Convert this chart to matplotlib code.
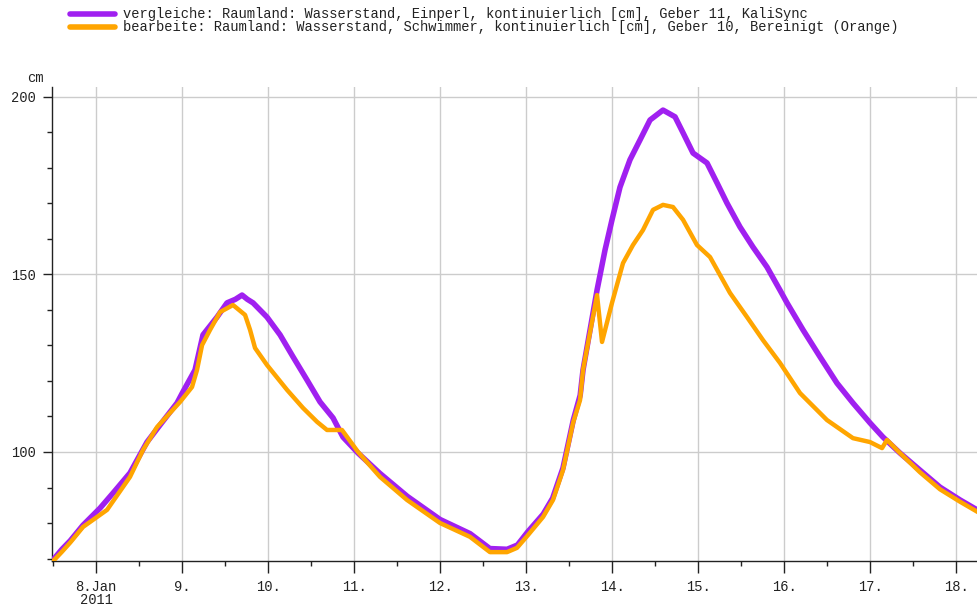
import numpy as np
import matplotlib
matplotlib.use("Agg")
import matplotlib.pyplot as plt
import matplotlib.dates as mdates
from matplotlib.lines import Line2D
from matplotlib.ticker import FixedLocator, MultipleLocator
import datetime as dt

# ---- data (day of January 2011, value in cm) ----
purple_day = [7.49, 7.60, 7.70, 7.849, 8.047, 8.20, 8.395, 8.593, 8.744, 8.942, 9.012, 9.151,
              9.244, 9.407, 9.523, 9.62, 9.698, 9.76, 9.826, 9.988, 10.140, 10.291, 10.453,
              10.605, 10.756, 10.872, 11.047, 11.30, 11.62, 12.0, 12.35, 12.58, 12.78, 12.90,
              13.02, 13.20, 13.31, 13.43, 13.55, 13.63, 13.663, 13.826, 13.919, 14.0, 14.093,
              14.209, 14.326, 14.442, 14.593, 14.733, 14.826, 14.942, 15.105, 15.221, 15.337,
              15.488, 15.640, 15.802, 15.953, 16.035, 16.221, 16.419, 16.616, 16.802, 17.0,
              17.151, 17.349, 17.581, 17.814, 18.047, 18.26]
purple_val = [69.3, 72.5, 75.0, 79.4, 84.2, 88.5, 94.1, 102.8, 107.6, 113.8, 117.0, 123.1,
              133.0, 138.0, 142.0, 143.0, 144.2, 143.0, 142.0, 138.0, 133.0, 126.8, 120.3,
              114.1, 109.6, 104.2, 99.7, 94.0, 87.5, 81.0, 77.0, 72.8, 72.6, 73.8,
              77.5, 82.5, 87.0, 95.5, 109.0, 116.0, 123.1, 145.6, 156.9, 165.4, 174.6,
              182.3, 187.9, 193.5, 196.3, 194.4, 189.9, 184.2, 181.4, 175.8, 170.1,
              163.4, 157.7, 152.1, 145.6, 142.0, 134.4, 126.8, 119.4, 113.8, 108.2,
              104.2, 99.7, 94.9, 90.1, 86.5, 83.5]

orange_day = [7.49, 7.60, 7.70, 7.849, 8.128, 8.395, 8.547, 8.709, 8.977, 9.116, 9.174, 9.233,
              9.326, 9.442, 9.593, 9.733, 9.791, 9.849, 9.988, 10.221, 10.407, 10.570, 10.686,
              10.860, 11.047, 11.302, 11.616, 12.0, 12.349, 12.581, 12.779, 12.895, 13.023,
              13.198, 13.314, 13.430, 13.547, 13.628, 13.663, 13.826, 13.884, 14.0, 14.128,
              14.244, 14.360, 14.477, 14.593, 14.709, 14.826, 14.988, 15.140, 15.372, 15.570,
              15.756, 15.953, 16.186, 16.5, 16.802, 17.0, 17.140, 17.198, 17.349, 17.581,
              17.814, 18.047, 18.26]
orange_val = [69.0, 71.8, 74.5, 78.9, 83.7, 93.0, 100.6, 107.0, 114.1, 118.3, 123.1, 130.1,
              134.4, 139.4, 141.4, 138.6, 134.4, 129.3, 124.5, 117.5, 112.4, 108.5, 106.2,
              106.2, 100.0, 93.0, 86.5, 80.0, 76.1, 71.8, 71.8, 73.0, 76.6,
              81.7, 86.5, 94.9, 108.2, 114.6, 123.1, 144.2, 131.0, 142.0, 153.2,
              158.3, 162.5, 168.2, 169.6, 169.0, 165.4, 158.3, 154.9, 144.8, 138.0,
              131.5, 125.1, 116.6, 109.0, 103.9, 102.8, 101.1, 103.4, 99.7, 94.3,
              89.5, 86.0, 83.0]

legend_labels = [
    "vergleiche: Raumland: Wasserstand, Einperl, kontinuierlich [cm], Geber 11, KaliSync",
    "bearbeite: Raumland: Wasserstand, Schwimmer, kontinuierlich [cm], Geber 10, Bereinigt (Orange)",
]
y_ticks = [100, 150, 200]
x_tick_days = list(range(8, 19))
x_tick_labels = ["8.Jan\n2011"] + [f"{d}." for d in range(9, 19)]

PURPLE = "#a020f0"
ORANGE = "#ffa500"
FONT = "Liberation Mono"
FS = 9.9

base = mdates.date2num(dt.datetime(2011, 1, 1))
def dnum(days):
    return base + np.asarray(days, dtype=float) - 1.0

fig = plt.figure(figsize=(9.78, 6.08), dpi=100)
W, H = 978, 608
ax = fig.add_axes([52 / W, 1 - 561 / H, 1 - 52 / W, (561 - 87) / H])

ax.plot(dnum(purple_day), purple_val, color=PURPLE, lw=4.0, solid_joinstyle="round", zorder=3)
ax.plot(dnum(orange_day), orange_val, color=ORANGE, lw=3.2, solid_joinstyle="round", zorder=4)

ax.set_xlim(dnum(7.488), dnum(18.256))
ax.set_ylim(69.3, 202.8)

ax.xaxis.set_major_locator(FixedLocator(dnum(x_tick_days)))
ax.xaxis.set_minor_locator(FixedLocator(dnum(np.array(x_tick_days[:-1]) + 0.5).tolist() + [dnum(7.5)]))
ax.set_xticklabels(x_tick_labels, fontfamily=FONT, fontsize=FS, color="#222222")
for lbl in ax.get_xticklabels():
    lbl.set_linespacing(0.95)
ax.yaxis.set_major_locator(FixedLocator(y_ticks))
ax.yaxis.set_minor_locator(MultipleLocator(10))
ax.set_yticklabels([str(v) for v in y_ticks], fontfamily=FONT, fontsize=FS, color="#222222")

ax.tick_params(axis="x", which="major", length=8.6, width=1.0, pad=5, color="#222222")
ax.tick_params(axis="x", which="minor", length=3.6, width=1.0, color="#222222")
ax.tick_params(axis="y", which="major", length=6.5, width=1.0, pad=5, color="#222222")
ax.tick_params(axis="y", which="minor", length=3.6, width=1.0, color="#222222")

ax.grid(True, which="major", color="#cccccc", lw=1.0, zorder=0)
for s in ["top", "right"]:
    ax.spines[s].set_visible(False)
for s in ["left", "bottom"]:
    ax.spines[s].set_color("#222222")
    ax.spines[s].set_linewidth(1.0)

fig.text(35 / W, 1 - 78 / H, "cm", fontfamily=FONT, fontsize=FS, ha="center", va="center",
         color="#222222")

# legend at top
for i, (lab, col) in enumerate(zip(legend_labels, [PURPLE, ORANGE])):
    yy = 1 - (14 + 12.7 * i) / H
    fig.add_artist(Line2D([70 / W, 115 / W], [yy, yy], color=col, lw=4.0,
                          solid_capstyle="round", transform=fig.transFigure))
    fig.text(123 / W, yy, lab, fontfamily=FONT, fontsize=FS, ha="left", va="center",
             color="#222222")

fig.savefig("out.png", dpi=100)
